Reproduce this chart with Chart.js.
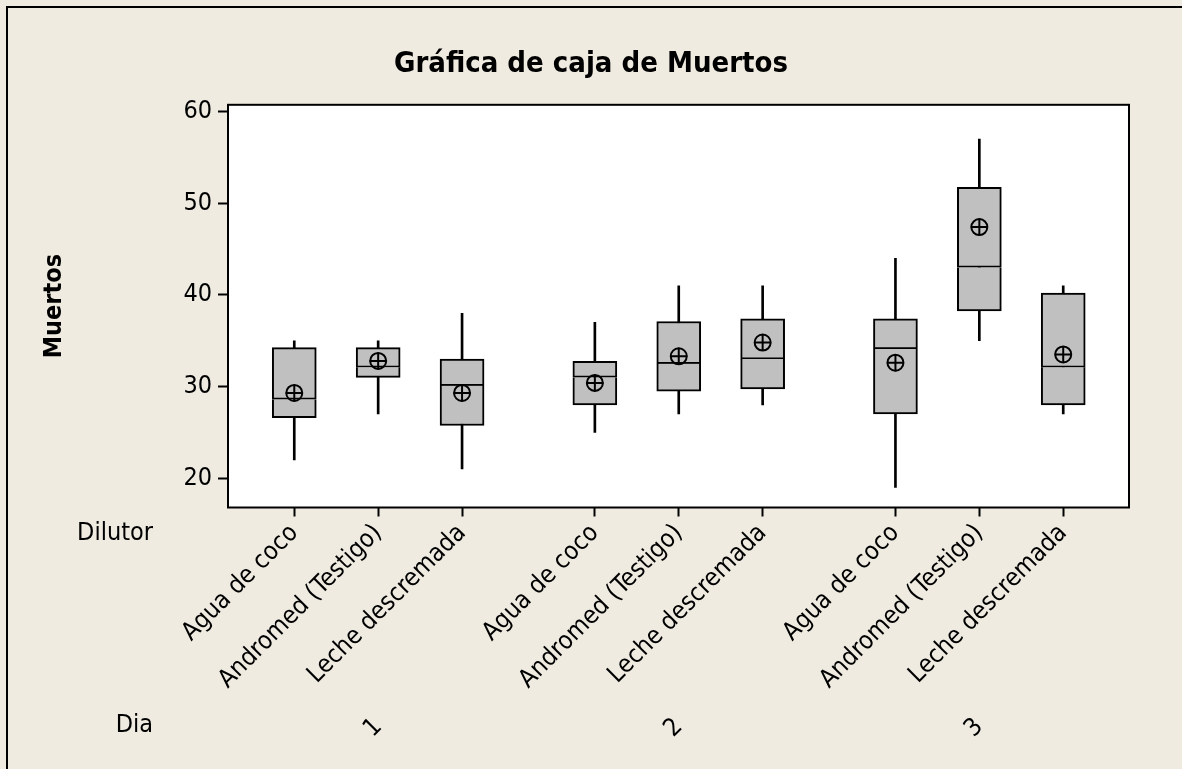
<!DOCTYPE html>
<html>
<head>
<meta charset="utf-8">
<script src="https://cdn.jsdelivr.net/npm/chart.js@4"></script>
<style>
html, body { margin: 0; padding: 0; background: #efebe1; }
#wrap { width: 1182px; height: 769px; }
</style>
</head>
<body>
<div id="wrap"><canvas id="myChart"></canvas></div>
<script>
// datos (orden: dia 1, dia 2, dia 3; dentro de cada dia los 3 dilutores)
const dilutores = ['Agua de coco', 'Andromed (Testigo)', 'Leche descremada'];
const dias = ['1', '2', '3'];
const minimo  = [22, 27, 21, 25, 27, 28, 19, 35, 27];
const q1      = [26.6, 31, 25.75, 28, 29.5, 29.75, 27, 38.25, 28];
const mediana = [28.6, 32.1, 30.1, 31, 32.5, 33, 34.1, 43, 32.1];
const q3      = [34.25, 34.25, 33, 32.75, 37.1, 37.4, 37.4, 51.75, 40.2];
const maximo  = [35, 35, 38, 37, 41, 41, 44, 57, 41];
const media   = [29.3, 32.8, 29.3, 30.4, 33.3, 34.8, 32.6, 47.4, 33.5];
const yTicks  = [20, 30, 40, 50, 60];

const FONT = '"DejaVu Sans Condensed", "DejaVu Sans", sans-serif';
Chart.defaults.font.family = FONT;
Chart.defaults.color = '#000';

// 3 cajas por dia y un hueco entre dias
const GAP = 0.583;
const posiciones = mediana.map((_, i) => 1 + i + Math.floor(i / 3) * GAP);
const etiquetas = posiciones.map((_, i) => dilutores[i % 3]);
const centrosDia = dias.map((_, g) => posiciones[g * 3 + 1]);
const X_MIN = 0.21, X_MAX = 10.95;

const pares = (a, b) => posiciones.map((x, i) => ({ x: x, y: [a[i], b[i]] }));

const marco = {
    id: 'marco',
    beforeDraw(chart) {
        const { ctx, chartArea: a } = chart;
        ctx.save();
        ctx.fillStyle = '#efebe1';
        ctx.fillRect(0, 0, chart.width, chart.height);
        ctx.fillStyle = '#fff';
        ctx.fillRect(a.left, a.top, a.right - a.left, a.bottom - a.top);
        // borde exterior de la figura
        ctx.strokeStyle = '#000';
        ctx.lineWidth = 2;
        ctx.beginPath();
        ctx.moveTo(7, chart.height + 5);
        ctx.lineTo(7, 7);
        ctx.lineTo(chart.width + 5, 7);
        ctx.stroke();
        ctx.restore();
    },
    afterDraw(chart) {
        const { ctx, chartArea: a, scales } = chart;
        ctx.save();
        ctx.strokeStyle = '#000';
        ctx.lineWidth = 2;
        ctx.strokeRect(a.left, a.top, a.right - a.left, a.bottom - a.top);
        ctx.fillStyle = '#000';
        ctx.font = '25px ' + FONT;
        ctx.textAlign = 'right';
        ctx.textBaseline = 'middle';
        ctx.fillText('Dilutor', 153, scales.x.top + 26);
        ctx.fillText('Dia', 153, scales.x2.top + 18);
        ctx.restore();
    }
};

const ctx = document.getElementById('myChart').getContext('2d');

new Chart(ctx, {
    type: 'bar',
    data: {
        datasets: [
            {
                label: 'bigotes',
                data: pares(minimo, maximo),
                xAxisID: 'x',
                yAxisID: 'y',
                backgroundColor: '#000',
                borderWidth: 0,
                barThickness: 2,
                grouped: false,
                order: 3
            },
            {
                label: 'caja inferior',
                data: pares(q1, mediana),
                xAxisID: 'x',
                yAxisID: 'y',
                backgroundColor: '#c0c0c0',
                borderColor: '#000',
                borderWidth: 2,
                borderSkipped: 'top',
                barThickness: 44,
                grouped: false,
                order: 2
            },
            {
                label: 'caja superior',
                data: pares(mediana, q3),
                xAxisID: 'x',
                yAxisID: 'y',
                backgroundColor: '#c0c0c0',
                borderColor: '#000',
                borderWidth: 2,
                borderSkipped: false,
                barThickness: 44,
                grouped: false,
                order: 2
            },
            {
                type: 'scatter',
                label: 'media',
                data: posiciones.map((x, i) => ({ x: x, y: media[i] })),
                xAxisID: 'x',
                yAxisID: 'y',
                pointStyle: 'circle',
                pointRadius: 8,
                borderWidth: 2,
                borderColor: '#000',
                backgroundColor: 'rgba(0,0,0,0)',
                order: 0
            },
            {
                type: 'scatter',
                label: 'media cruz',
                data: posiciones.map((x, i) => ({ x: x, y: media[i] })),
                xAxisID: 'x',
                yAxisID: 'y',
                pointStyle: 'cross',
                pointRadius: 8.5,
                borderWidth: 2,
                borderColor: '#000',
                order: 0
            }
        ]
    },
    options: {
        responsive: true,
        maintainAspectRatio: false,
        animation: false,
        layout: { padding: 0 },
        plugins: {
            legend: { display: false },
            tooltip: { enabled: false },
            title: {
                display: true,
                text: 'Gráfica de caja de Muertos',
                color: '#000',
                font: { size: 29, weight: 'bold' },
                padding: { top: 47, bottom: 23 }
            }
        },
        scales: {
            x: {
                type: 'linear',
                position: 'bottom',
                min: X_MIN,
                max: X_MAX,
                offset: false,
                grid: { display: true, offset: false, drawOnChartArea: false, tickLength: 9, tickColor: '#000', tickWidth: 2 },
                border: { display: false },
                afterBuildTicks: s => { s.ticks = posiciones.map(v => ({ value: v })); },
                afterFit: s => { s.height = 200; },
                ticks: {
                    autoSkip: false,
                    minRotation: 45,
                    maxRotation: 45,
                    padding: 2,
                    color: '#000',
                    font: { size: 25 },
                    callback: (v, i) => etiquetas[i]
                }
            },
            x2: {
                type: 'linear',
                position: 'bottom',
                min: X_MIN,
                max: X_MAX,
                offset: false,
                grid: { display: false },
                border: { display: false },
                afterBuildTicks: s => { s.ticks = centrosDia.map(v => ({ value: v })); },
                afterFit: s => { s.height = 61.5; },
                ticks: {
                    autoSkip: false,
                    minRotation: 45,
                    maxRotation: 45,
                    padding: -3,
                    color: '#000',
                    font: { size: 25 },
                    callback: (v, i) => dias[i]
                }
            },
            y: {
                type: 'linear',
                position: 'left',
                min: 16.8,
                max: 60.75,
                grid: { drawOnChartArea: false, tickLength: 10, tickColor: '#000', tickWidth: 2 },
                border: { display: false },
                afterBuildTicks: s => { s.ticks = yTicks.map(v => ({ value: v })); },
                afterFit: s => { s.width = 228; },
                ticks: { color: '#000', padding: 6, font: { size: 25 } },
                title: {
                    display: true,
                    text: 'Muertos',
                    color: '#000',
                    font: { size: 25, weight: 'bold' },
                    padding: { top: 39, bottom: 0 }
                }
            },
            yR: {
                type: 'linear',
                position: 'right',
                grid: { display: false },
                border: { display: false },
                ticks: { display: false },
                afterFit: s => { s.width = 53; }
            }
        }
    },
    plugins: [marco]
});
</script>
</body>
</html>
